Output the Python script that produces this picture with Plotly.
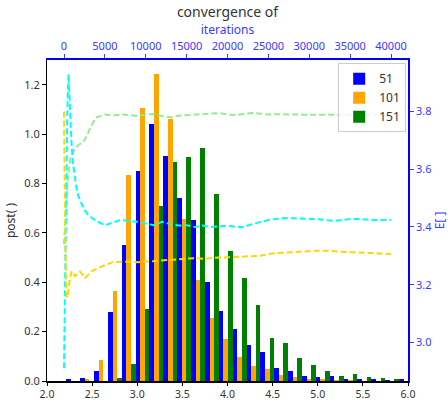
import numpy as np
import plotly.graph_objects as go

# ---- histogram data (25 bins) ----
bin_start = 2.214
bin_width = 0.1536
n_bins = 25
series_names = ["51", "101", "151"]
post_51 = [0.005, 0.013, 0.041, 0.281, 0.551, 0.849, 1.041, 0.913, 0.740, 0.652,
           0.399, 0.282, 0.210, 0.146, 0.118, 0.054, 0.041, 0.021, 0.017, 0.021,
           0.005, 0.005, 0.005, 0.003, 0.005]
post_101 = [0.0, 0.009, 0.087, 0.363, 0.833, 1.106, 1.242, 1.061, 0.656, 0.411,
            0.254, 0.170, 0.098, 0.062, 0.050, 0.025, 0.017, 0.009, 0.009, 0.003,
            0.002, 0.0, 0.0, 0.0, 0.0]
post_151 = [0.0, 0.0, 0.0, 0.013, 0.070, 0.290, 0.708, 0.885, 0.909, 0.945,
            0.756, 0.527, 0.419, 0.306, 0.174, 0.154, 0.094, 0.065, 0.041, 0.021,
            0.029, 0.017, 0.013, 0.009, 0.0]

# ---- convergence traces ----
iters_green = [0, 200, 400, 600, 800, 1000, 1300, 1600, 2000, 2500, 3000, 3500, 4000,
               5000, 6000, 7000, 8000, 9000, 10000, 11000, 12000, 13000, 14000, 15000,
               16000, 17000, 18000, 19000, 20000, 21000, 22000, 23000, 24000, 25000,
               26000, 27000, 28000, 29000, 30000, 31000, 32000, 33000, 34000, 35000,
               36000, 37000, 38000, 39000, 40000]
e_green = [3.34, 3.46, 3.55, 3.60, 3.64, 3.65, 3.67, 3.68, 3.69, 3.70, 3.73, 3.76, 3.78,
           3.79, 3.786, 3.79, 3.788, 3.785, 3.79, 3.792, 3.785, 3.78, 3.786, 3.788,
           3.789, 3.79, 3.793, 3.795, 3.79, 3.788, 3.792, 3.795, 3.793, 3.79,
           3.791, 3.79, 3.789, 3.789, 3.789, 3.789, 3.789, 3.79, 3.791, 3.79,
           3.789, 3.789, 3.788, 3.787, 3.786]

iters_cyan = [0, 400, 550, 700, 900, 1100, 1300, 1600, 2000, 2500, 3000, 3500, 4000,
              5000, 6000, 7000, 8000, 9000, 10000, 11000, 12000, 13000, 14000, 15000,
              16000, 17000, 18000, 19000, 20000, 21000, 22000, 23000, 24000, 25000,
              26000, 27000, 28000, 29000, 30000, 31000, 32000, 33000, 34000, 35000,
              36000, 37000, 38000, 39000, 40000]
e_cyan = [2.91, 3.80, 3.93, 3.82, 3.70, 3.62, 3.58, 3.52, 3.49, 3.46, 3.44, 3.43, 3.42,
          3.406, 3.415, 3.425, 3.42, 3.418, 3.412, 3.406, 3.418, 3.41, 3.405, 3.406,
          3.40, 3.405, 3.40, 3.403, 3.405, 3.40, 3.40, 3.41, 3.418, 3.424,
          3.428, 3.431, 3.43, 3.43, 3.428, 3.427, 3.425, 3.421, 3.424, 3.428,
          3.428, 3.425, 3.424, 3.424, 3.424]

iters_gold = [0, 150, 330, 500, 700, 940, 1345, 1957, 2569, 3000, 3388, 4000, 4612,
              5000, 6000, 7000, 8000, 9000, 10000, 11000, 12000, 13000, 14000, 15000,
              16000, 17000, 18000, 19000, 20000, 21000, 22000, 23000, 24000, 25000,
              26000, 27000, 28000, 29000, 30000, 31000, 32000, 33000, 34000, 35000,
              36000, 37000, 38000, 39000, 40000]
e_gold = [3.80, 3.35, 3.155, 3.17, 3.22, 3.246, 3.229, 3.246, 3.223, 3.235, 3.246, 3.255, 3.263,
          3.268, 3.278, 3.28, 3.28, 3.278, 3.28, 3.282, 3.285, 3.288, 3.29, 3.29,
          3.292, 3.29, 3.293, 3.294, 3.295, 3.296, 3.297, 3.30, 3.30, 3.306,
          3.31, 3.311, 3.313, 3.315, 3.316, 3.318, 3.318, 3.316, 3.313, 3.312,
          3.312, 3.311, 3.309, 3.307, 3.306]

bin_centers = bin_start + bin_width * (np.arange(n_bins) + 0.5)

FONT = "Noto Sans"
BLUE_TXT = "#3a3aff"
GRAY_TXT = "#333333"

fig = go.Figure()
for name, vals, col in zip(series_names, [post_51, post_101, post_151],
                           ["#0000ff", "#ffa500", "#008000"]):
    fig.add_trace(go.Bar(x=bin_centers, y=vals, name=name, marker_color=col,
                         marker_line_width=0, xaxis="x", yaxis="y"))

for it, ev, col in [(iters_green, e_green, "#90ee90"),
                    (iters_cyan, e_cyan, "#00ffff"),
                    (iters_gold, e_gold, "#ffd700")]:
    fig.add_trace(go.Scatter(x=it, y=ev, mode="lines", showlegend=False,
                             line=dict(color=col, width=2, dash="6px,3px"),
                             xaxis="x2", yaxis="y2"))

fig.update_layout(
    width=448, height=402,
    margin=dict(l=47, r=40, t=60, b=21),
    paper_bgcolor="white", plot_bgcolor="white",
    barmode="group", bargap=0, bargroupgap=0,
    font=dict(family=FONT, size=11, color=GRAY_TXT),
    title=dict(text="convergence of", x=0.5, xref="paper", xanchor="center",
               y=1 - 12 / 402, yref="container", yanchor="middle",
               font=dict(size=14, color=GRAY_TXT)),
    xaxis=dict(range=[2.0, 6.0], tickvals=[2.0, 2.5, 3.0, 3.5, 4.0, 4.5, 5.0, 5.5, 6.0],
               tickformat=".1f", showgrid=False, zeroline=False, automargin=False,
               showline=True, linecolor="black", linewidth=1.5,
               ticks="outside", ticklen=3, tickcolor="black",
               tickfont=dict(size=10.5, color=GRAY_TXT)),
    yaxis=dict(range=[0, 1.3], tickvals=[0, 0.2, 0.4, 0.6, 0.8, 1.0, 1.2],
               tickformat=".1f", showgrid=False, zeroline=False, automargin=False,
               showline=True, linecolor="black", linewidth=1,
               ticks="outside", ticklen=4, tickcolor="black",
               tickfont=dict(size=11, color=GRAY_TXT),
               title=dict(text="post( )", font=dict(size=12, color=GRAY_TXT), standoff=6)),
    xaxis2=dict(range=[-2080, 42080], overlaying="x", side="top", anchor="y2",
                tickvals=list(range(0, 40001, 5000)), tickformat="d",
                showgrid=False, zeroline=False, automargin=False,
                showline=True, linecolor="blue", linewidth=1.5,
                ticks="outside", ticklen=4, tickcolor=BLUE_TXT,
                tickfont=dict(size=11, color=BLUE_TXT),
                title=dict(text="iterations", font=dict(size=12, color=BLUE_TXT), standoff=0)),
    yaxis2=dict(range=[2.866, 3.979], overlaying="y", side="right", anchor="x2",
                tickvals=[3.0, 3.2, 3.4, 3.6, 3.8], tickformat=".1f",
                showgrid=False, zeroline=False, automargin=False,
                showline=True, linecolor="blue", linewidth=1.5,
                ticks="outside", ticklen=4, tickcolor=BLUE_TXT,
                tickfont=dict(size=11, color=BLUE_TXT),
                title=dict(text="E[ ]", font=dict(size=12, color=BLUE_TXT), standoff=6)),
    legend=dict(x=0.995, y=0.99, xanchor="right", yanchor="top",
                bgcolor="rgba(255,255,255,0.8)", bordercolor="#cccccc", borderwidth=1,
                font=dict(size=12, color=GRAY_TXT), itemwidth=30),
)

fig.write_html("out.html")
